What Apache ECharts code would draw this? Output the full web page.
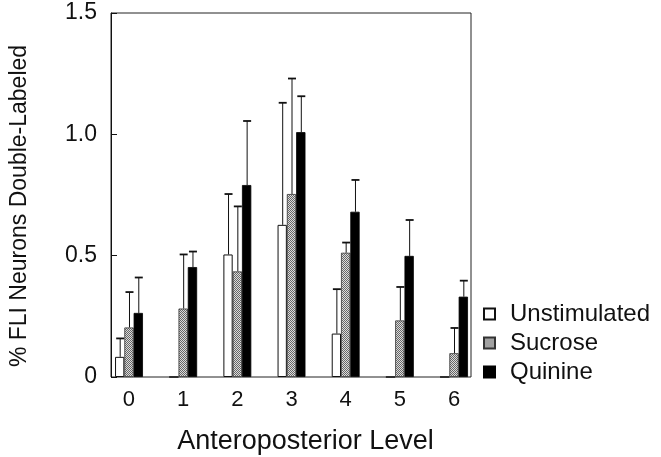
<!DOCTYPE html>
<html><head><meta charset="utf-8">
<script src="https://cdn.jsdelivr.net/npm/echarts@6/dist/echarts.min.js"></script>
<style>html,body{margin:0;padding:0;background:#fff}#c{width:661px;height:457px}</style>
</head><body><div id="c"></div>
<script>
const categories = ['0','1','2','3','4','5','6'];
const unstimulated = [0.083, 0, 0.505, 0.627, 0.179, 0, 0];
const sucrose      = [0.204, 0.282, 0.435, 0.754, 0.512, 0.233, 0.098];
const quinine      = [0.264, 0.453, 0.791, 1.009, 0.681, 0.499, 0.331];
// upper end of error bars (mean + SE)
const unstimulatedErr = [0.159, null, 0.754, 1.13, 0.362, null, null];
const sucroseErr      = [0.35, 0.505, 0.703, 1.23, 0.554, 0.371, 0.202];
const quinineErr      = [0.41, 0.517, 1.055, 1.157, 0.812, 0.647, 0.397];
const yTicks = [0, 0.5, 1.0, 1.5];

const FONT = 'Liberation Sans, Arial, sans-serif';
const BAR_W = 9.3;

// stippled gray pattern for sucrose
const pc = document.createElement('canvas');
pc.width = 2; pc.height = 2;
const pctx = pc.getContext('2d');
pctx.fillStyle = '#dcdcdc'; pctx.fillRect(0,0,2,2);
pctx.fillStyle = '#666'; pctx.fillRect(0,0,1,1); pctx.fillRect(1,1,1,1);
const sucroseFill = {image: pc, repeat: 'repeat'};

function errSeries(name, means, errs, idx) {
  const data = [];
  categories.forEach((c, i) => {
    if (errs[i] != null) data.push([i, means[i], errs[i]]);
  });
  return {
    type: 'custom', name: name + ' err', xAxisIndex: 0, yAxisIndex: 0,
    silent: true, z: 1,
    data: data,
    renderItem: function (params, api) {
      const base = api.coord([api.value(0), api.value(1)]);
      const top = api.coord([api.value(0), api.value(2)]);
      const x = base[0] + (idx - 1) * BAR_W + 0.5;
      return {
        type: 'group',
        children: [
          {type: 'line', shape: {x1: x, y1: base[1], x2: x, y2: top[1]}, style: {stroke: '#111', lineWidth: 1}},
          {type: 'line', shape: {x1: x - 4, y1: top[1], x2: x + 4, y2: top[1]}, style: {stroke: '#111', lineWidth: 1.8}}
        ]
      };
    }
  };
}

const chart = echarts.init(document.getElementById('c'));
chart.setOption({
  animation: false,
  backgroundColor: '#fff',
  grid: [
    {left: 101.9, right: 179.9, top: 13, bottom: 80},
    {left: 111, right: 190, top: 13, bottom: 80, show: true, borderColor: '#222', borderWidth: 1, backgroundColor: 'transparent'}
  ],
  xAxis: [
    {type: 'category', gridIndex: 0, data: categories,
     axisLine: {show: false}, axisTick: {show: false},
     axisLabel: {fontFamily: FONT, fontSize: 22, color: '#111', margin: 12}},
    {type: 'value', gridIndex: 1, min: 0, max: 1, show: false}
  ],
  yAxis: [
    {type: 'value', gridIndex: 0, min: 0, max: 1.5, show: false},
    {type: 'value', gridIndex: 1, min: 0, max: 1.5, interval: 0.5,
     splitLine: {show: false},
     axisLine: {show: true, lineStyle: {color: '#111'}},
     axisTick: {show: true, inside: true, length: 6, lineStyle: {color: '#111'}},
     axisLabel: {fontFamily: FONT, fontSize: 23, color: '#111', margin: 14,
       formatter: v => (yTicks.indexOf(v) >= 0 ? (v === 0 ? '0' : v.toFixed(1)) : '')}}
  ],
  legend: {
    orient: 'vertical', left: 478, top: 297, itemWidth: 11, itemHeight: 11, itemGap: 5,
    icon: 'rect',
    data: ['Unstimulated', 'Sucrose', 'Quinine'],
    textStyle: {fontFamily: FONT, fontSize: 24, color: '#111', padding: [0, 0, 0, 10]}
  },
  graphic: [
    {type: 'text', x: 305.5, y: 442, style: {text: 'Anteroposterior Level', font: '27px ' + FONT, fill: '#111', textAlign: 'center', textVerticalAlign: 'middle'}},
    {type: 'text', x: 20, y: 206, rotation: Math.PI / 2, style: {text: '% FLI Neurons Double-Labeled', font: '23px ' + FONT, fill: '#111', textAlign: 'center', textVerticalAlign: 'middle'}}
  ],
  series: [
    {type: 'bar', name: 'Unstimulated', data: unstimulated, barWidth: BAR_W, barGap: '0%',
     itemStyle: {color: '#fff', borderColor: '#111', borderWidth: 1}, z: 2},
    {type: 'bar', name: 'Sucrose', data: sucrose, barWidth: BAR_W, barGap: '0%',
     itemStyle: {color: sucroseFill, borderColor: '#333', borderWidth: 0.8}, z: 2},
    {type: 'bar', name: 'Quinine', data: quinine, barWidth: BAR_W, barGap: '0%',
     itemStyle: {color: '#000', borderColor: '#000', borderWidth: 0.8}, z: 2},
    errSeries('Unstimulated', unstimulated, unstimulatedErr, 0),
    errSeries('Sucrose', sucrose, sucroseErr, 1),
    errSeries('Quinine', quinine, quinineErr, 2)
  ]
});
</script></body></html>
